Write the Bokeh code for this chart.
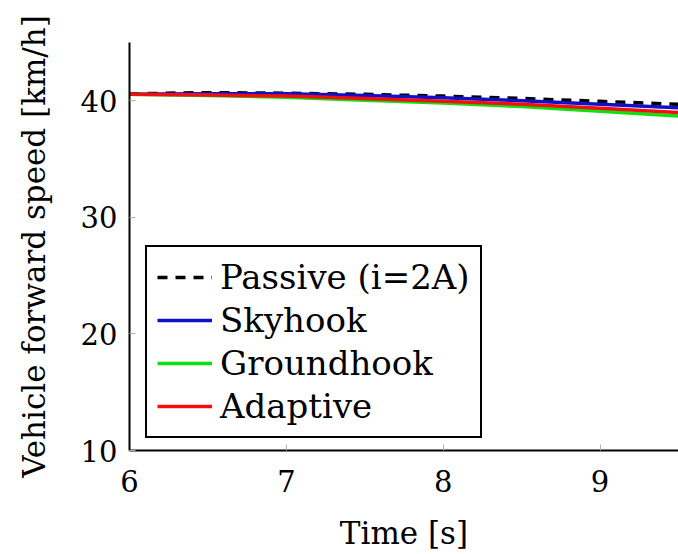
from bokeh.plotting import figure
from bokeh.models import Legend, LegendItem, FixedTicker, Range1d
from bokeh.embed import file_html
from bokeh.resources import INLINE

# Data
time_s = [6.0, 6.5, 7.0, 7.5, 8.0, 8.5, 9.0, 9.5]
passive = [40.6, 40.7, 40.65, 40.55, 40.4, 40.2, 39.95, 39.7]
skyhook = [40.55, 40.6, 40.6, 40.45, 40.25, 40.0, 39.7, 39.4]
groundhook = [40.55, 40.45, 40.3, 40.05, 39.8, 39.5, 39.1, 38.7]
adaptive = [40.55, 40.5, 40.4, 40.2, 39.95, 39.7, 39.35, 39.0]

x_ticks = [6, 7, 8, 9]
y_ticks = [10, 20, 30, 40]

FONT = "DejaVu Serif"

p = figure(width=678, height=554, output_backend="svg", toolbar_location=None,
           x_range=Range1d(6, 9.5), y_range=Range1d(10, 45),
           min_border_left=129, min_border_right=0, min_border_top=42,
           min_border_bottom=104)
p.outline_line_color = None
p.xgrid.visible = False
p.ygrid.visible = False
p.background_fill_color = "white"
p.border_fill_color = "white"

r_p = p.line(time_s, passive, line_color="black", line_width=3.5, line_dash="10 8")
r_s = p.line(time_s, skyhook, line_color="#1010c8", line_width=3.5)
r_g = p.line(time_s, groundhook, line_color="#10e010", line_width=3.5)
r_a = p.line(time_s, adaptive, line_color="#f01010", line_width=3.5)

for ax, ticks in ((p.xaxis[0], x_ticks), (p.yaxis[0], y_ticks)):
    ax.ticker = FixedTicker(ticks=ticks)
    ax.minor_tick_line_color = None
    ax.major_tick_in = 6
    ax.major_tick_out = 0
    ax.major_tick_line_color = "#b0b0b0"
    ax.major_tick_line_width = 1
    ax.axis_line_color = "black"
    ax.axis_line_width = 2
    ax.major_label_text_font = FONT
    ax.major_label_text_font_size = "29px"
    ax.major_label_text_color = "black"
    ax.axis_label_text_font = FONT
    ax.axis_label_text_font_style = "normal"
    ax.axis_label_text_color = "black"

p.xaxis.axis_label = "Time [s]"
p.xaxis.axis_label_text_font_size = "31px"
p.xaxis.major_label_standoff = 19
p.xaxis.axis_label_standoff = 20
p.yaxis.axis_label = "Vehicle forward speed [km/h]"
p.yaxis.axis_label_text_font_size = "31px"
p.yaxis.major_label_standoff = 12
p.yaxis.axis_label_standoff = 26

legend = Legend(items=[
    LegendItem(label="Passive (i=2A)", renderers=[r_p]),
    LegendItem(label="Skyhook", renderers=[r_s]),
    LegendItem(label="Groundhook", renderers=[r_g]),
    LegendItem(label="Adaptive", renderers=[r_a]),
], location=(16, 12))
legend.label_text_font = FONT
legend.label_text_font_size = "34px"
legend.label_text_color = "black"
legend.label_height = 40
legend.glyph_height = 40
legend.glyph_width = 55
legend.label_standoff = 8
legend.spacing = 3
legend.padding = 10
legend.margin = 0
legend.border_line_color = "black"
legend.border_line_alpha = 1
legend.border_line_width = 2
legend.background_fill_alpha = 1
p.add_layout(legend, "center")

open("out.html", "w").write(file_html(p, INLINE))
